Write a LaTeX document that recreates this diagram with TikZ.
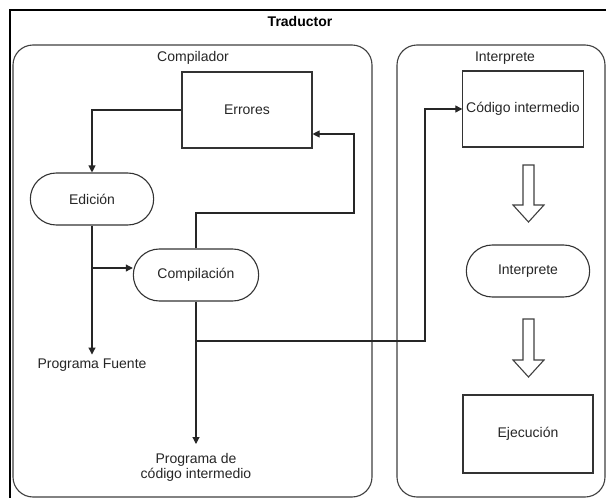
\documentclass[tikz,border=0pt]{standalone}
\usepackage{fontspec}
\setmainfont{Liberation Sans}
\usetikzlibrary{shapes.misc,arrows.meta}
\begin{document}
\begin{tikzpicture}[x=1pt,y=-1pt,
  txt/.style={font=\fontsize{14}{15}\selectfont, text=black!85},
  boxr/.style={draw=black!80, line width=1.1pt, rectangle, txt},
  oval/.style={draw=black!80, line width=1.1pt, rounded rectangle, txt},
  grp/.style={draw=black!75, line width=1.1pt, rounded corners=20pt},
  conn/.style={draw=black!85, line width=1.1pt, -{Triangle[length=7pt,width=7pt]}},
  hollow/.style={draw=black!75, line width=1.1pt, fill=white}]
\useasboundingbox (0,0) rectangle (606,498);
\clip (0,0) rectangle (606,498);
\fill[white] (0,0) rectangle (606,498);
% outer frame
\draw[black, line width=2pt] (10,10) rectangle (650,540);
\node[txt, font=\fontsize{14}{15}\selectfont\bfseries, text=black] (trad) at (300,21) {Traductor};
% groups
\draw[grp] (13,45) rectangle (372,497);
\draw[grp] (397,45) rectangle (605,497);
\node[txt] (lcomp) at (193,58) {Compilador};
\node[txt] (linter) at (505,58) {Interprete};
% nodes
\node[boxr, minimum width=130pt, minimum height=76pt] (err) at (247,110) {Errores};
\node[oval, minimum width=130pt, minimum height=52pt] (edi) at (92,199) {Edición};
\node[oval, minimum width=132pt, minimum height=52pt] (comp) at (196,275) {Compilación};
\node[txt, inner sep=4pt] (pf) at (92,365) {Programa Fuente};
\node[txt, align=center, anchor=north, inner xsep=2pt, inner ysep=9pt] (pci) at (196,444) {Programa de\\código intermedio};
\node[boxr, minimum width=120pt, minimum height=76pt] (ci) at (523,109) {Código intermedio};
\node[oval, minimum width=130pt, minimum height=52pt] (int) at (528,271) {Interprete};
\node[boxr, minimum width=130pt, minimum height=78pt] (eje) at (528,434) {Ejecución};
% waypoints
\coordinate (br1) at (92,268);
\coordinate (w1) at (354,213);
\coordinate (w2) at (354,134);
\coordinate (br2) at (196,341);
\coordinate (w3) at (425,341);
% connectors
\draw[conn] (err.west) -| (edi.north);
\draw[conn] (edi.south) -- (pf.north);
\draw[conn] (br1) -- (br1 -| comp.west);
\draw[conn] (comp.north) |- (w1) -- (w2) -- (w2 -| err.east);
\draw[conn] (comp.south) -- (pci.north);
\draw[conn] (br2) -- (w3) |- (ci.west);
% hollow arrows
\draw[hollow] (523,165) -- (534,165) -- (534,205) -- (544,205) -- (528.5,222) -- (513,205) -- (523,205) -- cycle;
\draw[hollow] (523,319) -- (534,319) -- (534,360) -- (544,360) -- (528.5,377) -- (513,360) -- (523,360) -- cycle;
\end{tikzpicture}
\end{document}
